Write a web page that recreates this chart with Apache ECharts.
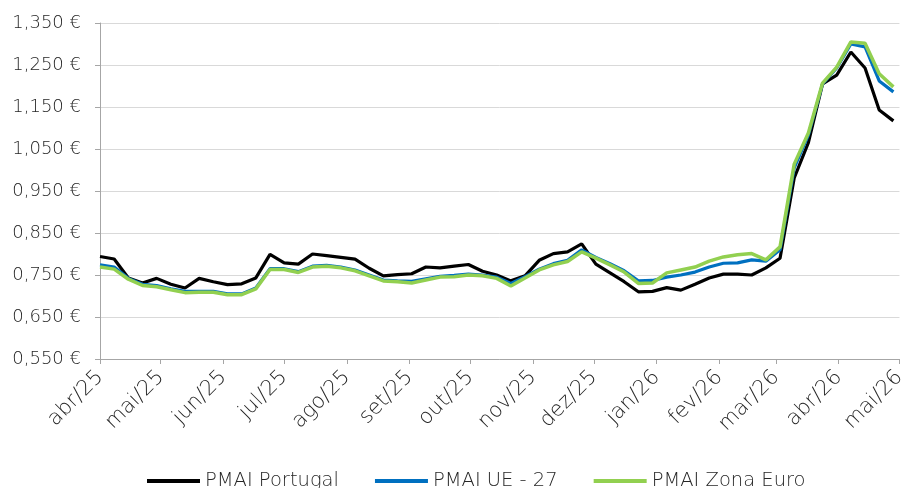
<!DOCTYPE html>
<html>
<head>
<meta charset="utf-8">
<script src="https://cdn.jsdelivr.net/npm/echarts@6/dist/echarts.min.js"></script>
<style>
  html, body { margin: 0; padding: 0; background: #fff; }
  #chart { width: 909px; height: 488px; }
</style>
</head>
<body>
<div id="chart"></div>
<script>
// Weekly observation dates
const dates = [
  '2025-04-01','2025-04-08','2025-04-15','2025-04-22','2025-04-29',
  '2025-05-06','2025-05-13','2025-05-20','2025-05-27',
  '2025-06-03','2025-06-10','2025-06-17','2025-06-24',
  '2025-07-01','2025-07-08','2025-07-15','2025-07-22','2025-07-29',
  '2025-08-05','2025-08-12','2025-08-19','2025-08-26',
  '2025-09-02','2025-09-09','2025-09-16','2025-09-23','2025-09-30',
  '2025-10-07','2025-10-14','2025-10-21','2025-10-28',
  '2025-11-04','2025-11-11','2025-11-18','2025-11-25',
  '2025-12-02','2025-12-09','2025-12-16','2025-12-23','2025-12-30',
  '2026-01-06','2026-01-13','2026-01-20','2026-01-27',
  '2026-02-03','2026-02-10','2026-02-17','2026-02-24',
  '2026-03-03','2026-03-10','2026-03-17','2026-03-24','2026-03-31',
  '2026-04-07','2026-04-14','2026-04-21','2026-04-28'
];

// PMAI Portugal (€)
const pmaiPortugal = [
  0.794,0.788,0.743,0.731,0.742,
  0.728,0.719,0.742,0.734,
  0.727,0.729,0.743,0.799,
  0.779,0.776,0.800,0.796,0.792,
  0.788,0.766,0.748,0.751,
  0.753,0.769,0.767,0.771,0.775,
  0.759,0.750,0.736,0.748,
  0.785,0.801,0.805,0.824,
  0.776,0.755,0.734,0.710,0.711,
  0.720,0.714,0.728,0.743,
  0.752,0.752,0.750,0.767,
  0.790,0.981,1.065,1.205,1.226,
  1.281,1.243,1.143,1.117
];

// PMAI UE - 27 (€)
const pmaiUE27 = [
  0.774,0.769,0.742,0.728,0.725,
  0.717,0.711,0.711,0.711,
  0.705,0.705,0.719,0.765,
  0.765,0.758,0.771,0.773,0.769,
  0.762,0.750,0.738,0.736,
  0.735,0.741,0.747,0.749,0.752,
  0.750,0.745,0.730,0.746,
  0.764,0.777,0.785,0.810,
  0.792,0.777,0.760,0.736,0.737,
  0.745,0.750,0.757,0.769,
  0.778,0.779,0.786,0.783,
  0.810,1.005,1.083,1.205,1.243,
  1.300,1.293,1.212,1.186
];

// PMAI Zona Euro (€)
const pmaiZonaEuro = [
  0.769,0.764,0.740,0.725,0.722,
  0.715,0.708,0.709,0.709,
  0.703,0.703,0.717,0.763,
  0.763,0.756,0.769,0.771,0.767,
  0.760,0.748,0.736,0.734,
  0.731,0.738,0.745,0.746,0.750,
  0.748,0.742,0.724,0.743,
  0.762,0.774,0.782,0.805,
  0.790,0.774,0.757,0.730,0.731,
  0.755,0.762,0.769,0.783,
  0.793,0.798,0.801,0.786,
  0.817,1.014,1.088,1.207,1.245,
  1.305,1.302,1.229,1.198
];

// Month ticks on the date axis
const monthTickDates = [
  '2025-04-01','2025-05-01','2025-06-01','2025-07-01','2025-08-01','2025-09-01',
  '2025-10-01','2025-11-01','2025-12-01','2026-01-01','2026-02-01','2026-03-01',
  '2026-04-01','2026-05-01'
];
const monthTickLabels = [
  'abr/25','mai/25','jun/25','jul/25','ago/25','set/25','out/25',
  'nov/25','dez/25','jan/26','fev/26','mar/26','abr/26','mai/26'
];

const seriesNames = ['PMAI Portugal', 'PMAI UE - 27', 'PMAI Zona Euro'];

// Dates become day numbers (UTC) so the axis is a plain linear scale
const DAY = 86400000;
function toDay(s) {
  const p = s.split('-').map(Number);
  return Math.round(Date.UTC(p[0], p[1] - 1, p[2]) / DAY);
}
const monthTicks = monthTickDates.map(toDay);
const xDays = dates.map(toDay);
const pairs = vals => vals.map((v, i) => [xDays[i], v]);

const FONT = 'DejaVu Sans';
const TEXT = '#262626';

const chart = echarts.init(document.getElementById('chart'), null, { renderer: 'canvas' });
chart.setOption({
  animation: false,
  backgroundColor: '#ffffff',
  textStyle: { fontFamily: FONT },
  grid: { left: 100, right: 5, top: 23, bottom: 129, containLabel: false },
  legend: {
    data: seriesNames,
    top: 466,
    left: 142,
    icon: 'rect',
    itemWidth: 53,
    itemHeight: 4,
    itemGap: 36,
    textStyle: { fontFamily: FONT, fontWeight: 300, fontSize: 19.5, color: TEXT }
  },
  xAxis: {
    type: 'value',
    min: monthTicks[0],
    max: monthTicks[monthTicks.length - 1],
    splitLine: { show: false },
    axisLine: { show: true, lineStyle: { color: '#a6a6a6', width: 1 } },
    axisTick: {
      show: true,
      customValues: monthTicks,
      length: 5,
      lineStyle: { color: '#a6a6a6' }
    },
    axisLabel: {
      customValues: monthTicks,
      rotate: 45,
      margin: 15,
      fontFamily: FONT,
      fontWeight: 300,
      fontSize: 21,
      color: TEXT,
      formatter: function (v) {
        const i = monthTicks.indexOf(Math.round(v));
        return i >= 0 ? monthTickLabels[i] : '';
      }
    }
  },
  yAxis: {
    type: 'value',
    min: 0.55,
    max: 1.35,
    interval: 0.1,
    axisLine: { show: true, lineStyle: { color: '#a6a6a6', width: 1 } },
    axisTick: { show: true, length: 5, lineStyle: { color: '#a6a6a6' } },
    splitLine: { show: true, lineStyle: { color: '#d9d9d9', width: 1 } },
    axisLabel: {
      margin: 19,
      fontFamily: FONT,
      fontWeight: 300,
      fontSize: 18,
      color: TEXT,
      formatter: v => v.toFixed(3).replace('.', ',') + ' €'
    }
  },
  series: [
    {
      name: seriesNames[0], type: 'line', data: pairs(pmaiPortugal),
      showSymbol: false, color: '#000000',
      lineStyle: { width: 3.2, color: '#000000' }, z: 2
    },
    {
      name: seriesNames[1], type: 'line', data: pairs(pmaiUE27),
      showSymbol: false, color: '#0070C0',
      lineStyle: { width: 3.2, color: '#0070C0' }, z: 3
    },
    {
      name: seriesNames[2], type: 'line', data: pairs(pmaiZonaEuro),
      showSymbol: false, color: '#92D050',
      lineStyle: { width: 3.5, color: '#92D050' }, z: 4
    }
  ]
});
</script>
</body>
</html>
